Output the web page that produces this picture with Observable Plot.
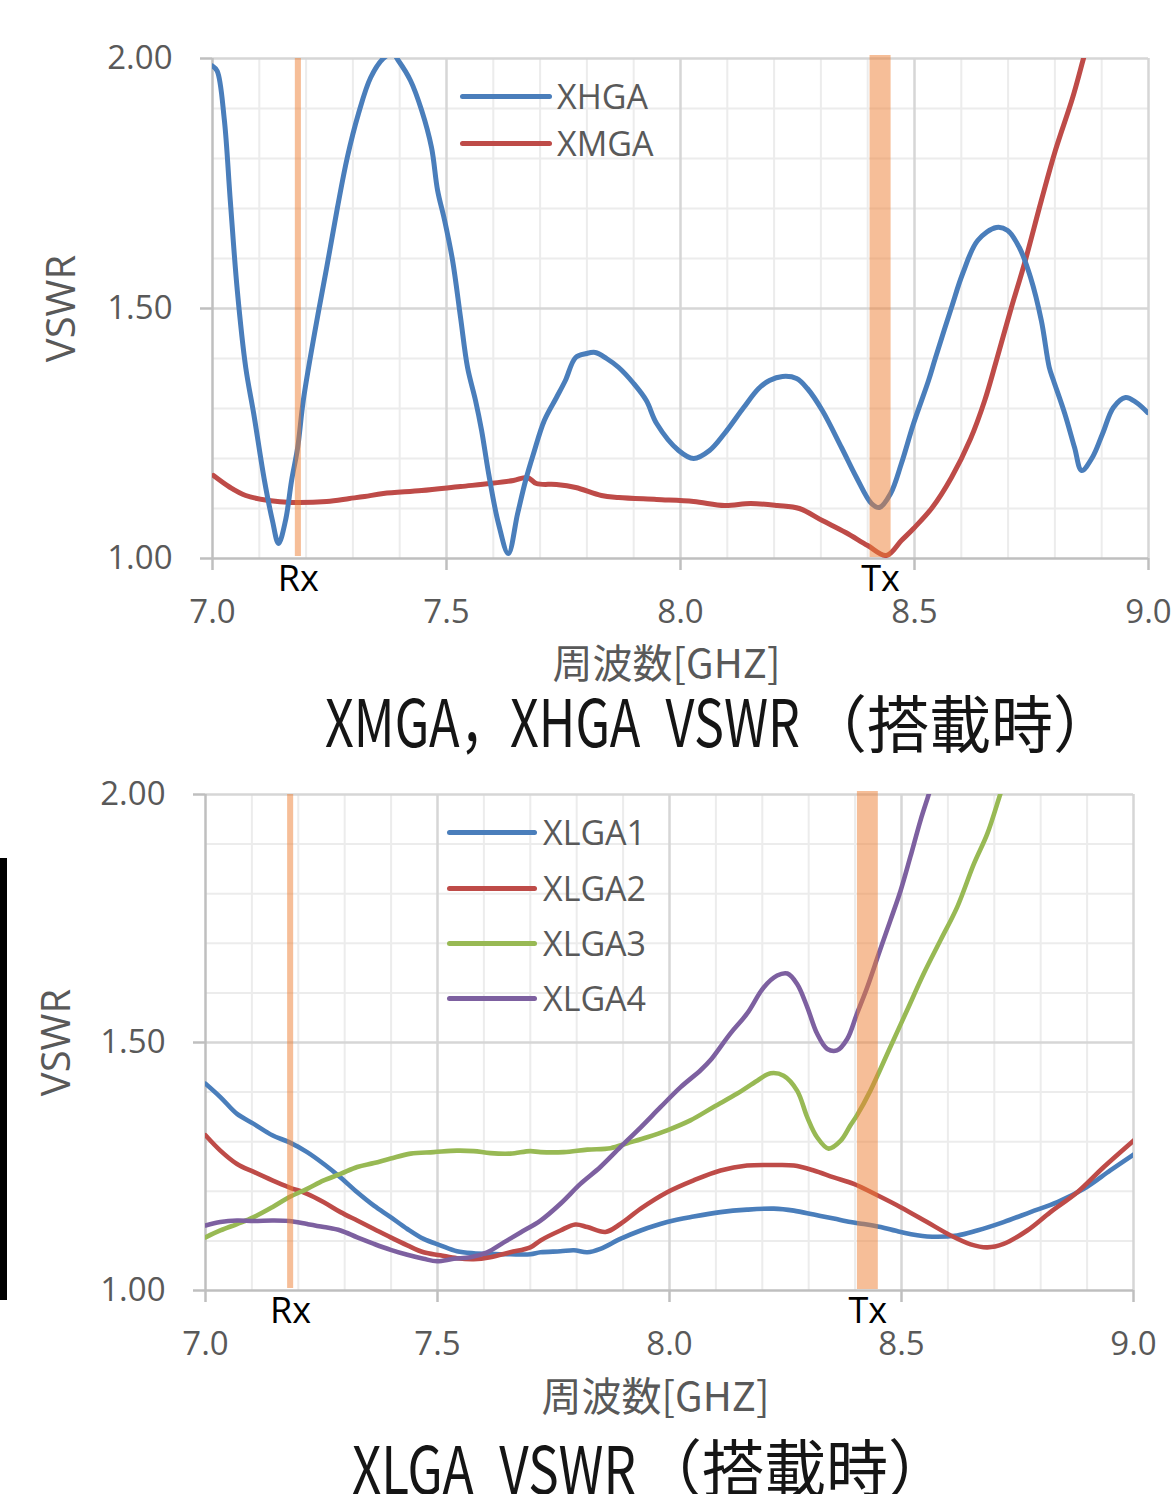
<!DOCTYPE html>
<html><head><meta charset="utf-8">
<script src="https://cdn.jsdelivr.net/npm/d3@7"></script>
<script src="https://cdn.jsdelivr.net/npm/@observablehq/plot@0.6"></script>
<style>
body{margin:0;background:#fff;}
#root{position:relative;width:1173px;height:1494px;overflow:hidden;background:#fff;}
.plot{position:absolute;left:0;}
.t{position:absolute;white-space:nowrap;line-height:1;color:#151515;font-family:"Noto Sans CJK JP";transform-origin:0 0;}
.lg{position:absolute;height:0;}
.lg .bar{position:absolute;height:5px;border-radius:3px;}
.lg .txt{position:absolute;font-family:"Open Sans";font-size:34px;color:#595959;line-height:1;white-space:nowrap;}
</style></head>
<body><div id="root"></div>
<script>
// ---- data ----
const xTicks = [7.0, 7.5, 8.0, 8.5, 9.0];
const yTicks = [1.0, 1.5, 2.0];
const rxBand = [7.177, 7.19];
const txBand = [8.405, 8.45];
const bandLabels = ["Rx", "Tx"];

const xhga = [[7.000,1.985],[7.010,1.975],[7.025,1.880],[7.038,1.716],[7.053,1.536],[7.071,1.382],[7.088,1.290],[7.111,1.156],[7.128,1.076],[7.141,1.030],[7.156,1.076],[7.169,1.156],[7.182,1.222],[7.194,1.316],[7.218,1.450],[7.244,1.582],[7.267,1.702],[7.288,1.802],[7.312,1.890],[7.338,1.962],[7.365,2.000],[7.385,2.010],[7.397,1.996],[7.423,1.956],[7.447,1.896],[7.468,1.822],[7.481,1.736],[7.496,1.676],[7.513,1.596],[7.530,1.482],[7.545,1.382],[7.562,1.316],[7.575,1.256],[7.590,1.170],[7.611,1.070],[7.632,1.010],[7.652,1.090],[7.669,1.156],[7.686,1.210],[7.709,1.276],[7.735,1.322],[7.754,1.356],[7.776,1.402],[7.799,1.410],[7.818,1.412],[7.842,1.400],[7.868,1.382],[7.900,1.350],[7.927,1.316],[7.949,1.270],[7.996,1.216],[8.028,1.200],[8.062,1.216],[8.094,1.250],[8.135,1.302],[8.167,1.340],[8.190,1.356],[8.218,1.364],[8.248,1.360],[8.271,1.340],[8.303,1.296],[8.344,1.222],[8.376,1.162],[8.408,1.110],[8.425,1.102],[8.449,1.130],[8.472,1.190],[8.498,1.270],[8.530,1.356],[8.545,1.402],[8.579,1.502],[8.603,1.570],[8.635,1.636],[8.675,1.662],[8.699,1.656],[8.724,1.622],[8.748,1.562],[8.771,1.476],[8.788,1.382],[8.797,1.356],[8.821,1.290],[8.842,1.222],[8.857,1.176],[8.880,1.202],[8.902,1.250],[8.925,1.302],[8.951,1.322],[8.974,1.312],[8.998,1.292]];

const xmga = [[7.002,1.166],[7.038,1.142],[7.071,1.126],[7.120,1.116],[7.169,1.112],[7.244,1.114],[7.293,1.120],[7.325,1.124],[7.365,1.130],[7.447,1.136],[7.530,1.144],[7.594,1.150],[7.643,1.156],[7.673,1.162],[7.692,1.150],[7.735,1.148],[7.776,1.142],[7.831,1.126],[7.868,1.122],[7.949,1.118],[8.028,1.114],[8.094,1.106],[8.150,1.110],[8.207,1.106],[8.254,1.100],[8.303,1.076],[8.353,1.052],[8.400,1.026],[8.440,1.006],[8.472,1.036],[8.498,1.060],[8.538,1.102],[8.579,1.162],[8.620,1.240],[8.650,1.316],[8.675,1.396],[8.707,1.502],[8.735,1.590],[8.771,1.716],[8.801,1.816],[8.838,1.922],[8.861,2.000],[8.870,2.030]];

const xlga1 = [[7.000,1.417],[7.032,1.390],[7.068,1.356],[7.104,1.336],[7.144,1.313],[7.180,1.299],[7.219,1.279],[7.255,1.255],[7.291,1.228],[7.327,1.198],[7.363,1.171],[7.399,1.148],[7.435,1.124],[7.470,1.104],[7.506,1.091],[7.542,1.079],[7.578,1.075],[7.614,1.074],[7.657,1.073],[7.700,1.073],[7.722,1.077],[7.765,1.079],[7.794,1.081],[7.823,1.077],[7.851,1.084],[7.894,1.104],[7.938,1.121],[7.995,1.138],[8.052,1.149],[8.110,1.158],[8.167,1.163],[8.225,1.165],[8.268,1.161],[8.311,1.153],[8.354,1.145],[8.390,1.138],[8.419,1.134],[8.455,1.128],[8.498,1.118],[8.555,1.109],[8.620,1.111],[8.663,1.121],[8.720,1.138],[8.778,1.158],[8.836,1.178],[8.893,1.205],[8.950,1.242],[9.000,1.274]];

const xlga2 = [[7.000,1.313],[7.032,1.282],[7.068,1.255],[7.104,1.239],[7.144,1.222],[7.180,1.208],[7.219,1.195],[7.255,1.178],[7.291,1.158],[7.327,1.141],[7.363,1.124],[7.399,1.107],[7.435,1.091],[7.470,1.077],[7.506,1.071],[7.542,1.065],[7.578,1.063],[7.614,1.067],[7.657,1.077],[7.700,1.087],[7.722,1.101],[7.765,1.121],[7.797,1.133],[7.823,1.128],[7.862,1.118],[7.894,1.134],[7.938,1.165],[7.995,1.198],[8.052,1.222],[8.110,1.242],[8.167,1.252],[8.225,1.253],[8.268,1.252],[8.311,1.242],[8.354,1.228],[8.397,1.215],[8.448,1.192],[8.498,1.168],[8.555,1.138],[8.606,1.111],[8.649,1.093],[8.685,1.087],[8.720,1.094],[8.771,1.121],[8.821,1.158],[8.879,1.198],[8.936,1.249],[9.000,1.302]];

const xlga3 = [[7.000,1.107],[7.032,1.121],[7.068,1.134],[7.104,1.148],[7.144,1.168],[7.180,1.188],[7.219,1.205],[7.255,1.222],[7.291,1.235],[7.327,1.249],[7.363,1.257],[7.399,1.266],[7.442,1.276],[7.492,1.279],[7.542,1.282],[7.578,1.281],[7.614,1.277],[7.657,1.276],[7.700,1.281],[7.722,1.279],[7.772,1.279],[7.823,1.284],[7.873,1.287],[7.909,1.297],[7.952,1.309],[7.995,1.323],[8.045,1.343],[8.095,1.370],[8.146,1.397],[8.189,1.423],[8.218,1.438],[8.246,1.433],[8.275,1.403],[8.297,1.349],[8.318,1.309],[8.343,1.286],[8.369,1.302],[8.390,1.333],[8.404,1.353],[8.433,1.403],[8.476,1.491],[8.512,1.565],[8.548,1.639],[8.584,1.706],[8.620,1.773],[8.656,1.860],[8.685,1.921],[8.713,2.001],[8.720,2.020]];

const xlga4 = [[7.000,1.131],[7.032,1.138],[7.068,1.141],[7.104,1.140],[7.144,1.141],[7.180,1.140],[7.219,1.134],[7.255,1.128],[7.291,1.121],[7.327,1.107],[7.363,1.094],[7.399,1.082],[7.435,1.072],[7.470,1.064],[7.499,1.059],[7.535,1.064],[7.571,1.067],[7.607,1.077],[7.643,1.097],[7.679,1.117],[7.722,1.141],[7.765,1.175],[7.808,1.215],[7.851,1.249],[7.894,1.289],[7.938,1.329],[7.981,1.370],[8.024,1.410],[8.067,1.444],[8.088,1.464],[8.131,1.518],[8.167,1.558],[8.203,1.611],[8.232,1.635],[8.254,1.639],[8.275,1.618],[8.297,1.571],[8.318,1.518],[8.340,1.487],[8.361,1.484],[8.383,1.507],[8.404,1.558],[8.426,1.611],[8.451,1.679],[8.476,1.746],[8.498,1.806],[8.519,1.874],[8.541,1.948],[8.559,2.001],[8.565,2.020]];

const topSeries = [{name:"XHGA", data:xhga, color:"#4A7EBB"},{name:"XMGA", data:xmga, color:"#BE4B48"}];
const botSeries = [{name:"XLGA1", data:xlga1, color:"#4A7EBB"},{name:"XLGA2", data:xlga2, color:"#BE4B48"},{name:"XLGA3", data:xlga3, color:"#98B954"},{name:"XLGA4", data:xlga4, color:"#7D60A0"}];

const xTitle = "周波数[GHZ]";
const yTitle = "VSWR";

// ---- chart builder ----
function chart({series, mL, mR, mT, mB, xDx, xDy, yDx, drawOrder, lw}) {
  const minorX = d3.range(71, 90).filter(d => d % 5 !== 0).map(d => d / 10);
  const minorY = d3.range(11, 20).filter(d => d % 5 !== 0).map(d => d / 10);
  const marks = [
    Plot.ruleX(minorX, {stroke:"#ececec", strokeWidth:2}),
    Plot.ruleY(minorY, {stroke:"#ececec", strokeWidth:2}),
    Plot.ruleX(xTicks.slice(1), {stroke:"#d6d6d6", strokeWidth:2.5}),
    Plot.ruleY(yTicks.slice(1), {stroke:"#d6d6d6", strokeWidth:2.5}),
    Plot.ruleX([xTicks[0]], {stroke:"#bfbfbf", strokeWidth:2.5}),
    Plot.ruleY([yTicks[0]], {stroke:"#bfbfbf", strokeWidth:2.5}),
    Plot.axisX({ticks:xTicks, tickFormat:d3.format(".1f"), tickSize:12, tickPadding:29, fontSize:33, stroke:"#bfbfbf", strokeWidth:2.5, fill:"#595959", label:null}),
    Plot.axisY({ticks:yTicks, tickFormat:d3.format(".2f"), tickSize:12, tickPadding:28, fontSize:33, stroke:"#bfbfbf", strokeWidth:2.5, fill:"#595959", label:null}),
  ];
  for (const s of drawOrder.map(i => series[i])) {
    marks.push(Plot.line(s.data, {x:d=>d[0], y:d=>d[1], stroke:s.color, strokeWidth:lw, curve:"catmull-rom", strokeLinejoin:"round", strokeLinecap:"round", clip:true}));
  }
  marks.push(
    Plot.rect([rxBand], {x1:d=>d[0], x2:d=>d[1], y1:()=>1, y2:()=>2, fill:"#ed7d31", fillOpacity:0.5, insetBottom:2}),
    Plot.rect([txBand], {x1:d=>d[0], x2:d=>d[1], y1:()=>1, y2:()=>2, fill:"#ed7d31", fillOpacity:0.5, insetTop:-3, insetBottom:1}),
    Plot.text([[rxBand, bandLabels[0]], [txBand, bandLabels[1]]], {x:d=>(d[0][0]+d[0][1])/2, frameAnchor:"bottom", lineAnchor:"middle", dy:21, text:d=>d[1], fontSize:36, fill:"#000", fontFamily:"Open Sans"}),
    Plot.text([xTitle], {frameAnchor:"bottom", lineAnchor:"middle", dx:xDx, dy:xDy, fontSize:40, fill:"#595959", fontFamily:"Noto Sans CJK JP"}),
    Plot.text([yTitle], {frameAnchor:"left", textAnchor:"middle", lineAnchor:"middle", dx:yDx, rotate:-90, fontSize:40, fill:"#595959", fontFamily:"Open Sans"})
  );
  return Plot.plot({
    width:1173, height:700, marginLeft:mL, marginRight:mR, marginTop:mT, marginBottom:mB,
    x:{domain:[7,9]}, y:{domain:[1,2]},
    style:{fontFamily:"Open Sans", background:"transparent", overflow:"visible", color:"#595959"},
    marks
  });
}

const root = document.getElementById("root");

const p1 = chart({series:topSeries, mL:212, mR:25, mT:58, mB:142, xDx:-14, xDy:107, yDx:-150, drawOrder:[1,0], lw:5});
p1.classList.add("plot"); p1.style.top = "0px";
root.appendChild(p1);

const p2 = chart({series:botSeries, mL:205, mR:40, mT:54, mB:150, xDx:-14, xDy:108, yDx:-148, drawOrder:[0,1,2,3], lw:4.6});
p2.classList.add("plot"); p2.style.top = "740px";
root.appendChild(p2);

// legends
function legend(series, x0, x1, tx, ys) {
  series.forEach((s, i) => {
    const g = document.createElement("div");
    g.className = "lg"; g.style.left = "0px"; g.style.top = ys[i] + "px";
    g.innerHTML = `<div class="bar" style="left:${x0}px;width:${x1-x0}px;top:-2.5px;background:${s.color}"></div><div class="txt" style="left:${tx}px;top:-17px">${s.name}</div>`;
    root.appendChild(g);
  });
}
legend(topSeries, 460, 552, 557, [96, 143]);
legend(botSeries, 447, 537, 543, [832, 888, 943, 998]);

// left black edge
const edge = document.createElement("div");
edge.style.cssText = "position:absolute;left:0;top:858px;width:7px;height:442px;background:#000";
root.appendChild(edge);

// titles
function title(text, left, top, size, targetW) {
  const d = document.createElement("div");
  d.className = "t"; d.textContent = text;
  d.style.left = left + "px"; d.style.top = top + "px"; d.style.fontSize = size + "px";
  root.appendChild(d);
  if (targetW) {
    const fit = () => { d.style.transform = "none"; const w = d.getBoundingClientRect().width; d.style.transform = `scaleX(${targetW / w})`; };
    fit(); if (document.fonts) document.fonts.ready.then(fit);
  }
  return d;
}
title("XMGA，XHGA\u2002VSWR", 325, 687, 65, 475);
title("（搭載時）", 805, 690, 62, null);
title("XLGA\u2002VSWR", 352, 1434, 65, 284);
title("（搭載時）", 640, 1434, 62, null);
</script>
</body></html>
